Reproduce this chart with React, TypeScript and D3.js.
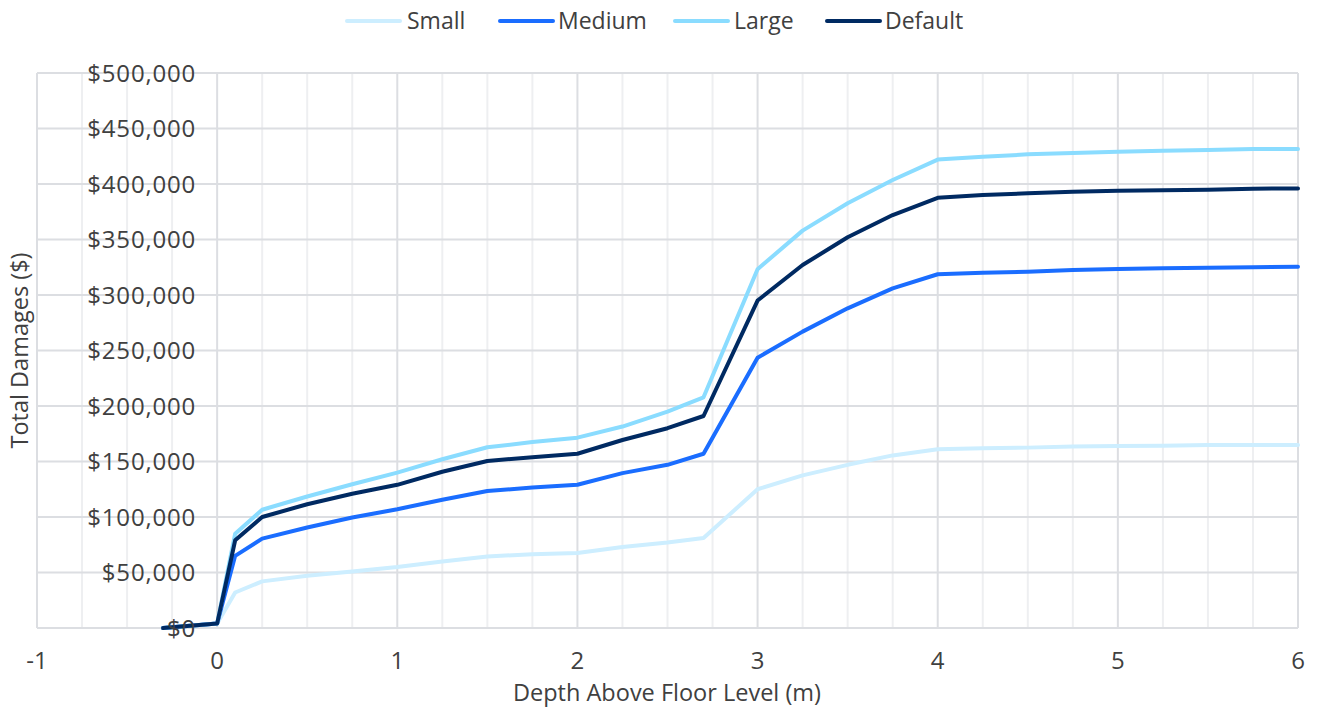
import React from "react";
import * as d3 from "d3";

// Depth above floor level (m) at which damages were sampled
const depths = [-0.3, 0, 0.1, 0.25, 0.5, 0.75, 1, 1.25, 1.5, 1.75, 2, 2.25, 2.5, 2.7, 3, 3.25, 3.5, 3.75, 4, 4.25, 4.5, 4.75, 5, 5.25, 5.5, 5.75, 6];

// Total damages ($) for each building size
const smallDamages = [0, 4000, 32000, 42000, 47000, 51000, 55000, 60000, 64500, 66500, 67500, 73000, 77000, 81000, 125000, 137500, 147000, 155500, 161000, 162000, 162500, 163500, 164000, 164200, 164800, 164900, 164900];
const mediumDamages = [0, 4000, 65000, 80500, 90500, 99500, 107000, 115500, 123500, 126500, 129000, 139500, 147000, 157000, 243500, 267000, 288000, 306000, 318700, 320000, 321000, 322500, 323400, 324000, 324600, 325000, 325500];
const largeDamages = [0, 4000, 85000, 106500, 118500, 129500, 140000, 152000, 162800, 167500, 171500, 181500, 195000, 207800, 323200, 358000, 382600, 403600, 422000, 424500, 426700, 428000, 429000, 430000, 430600, 431500, 431500];
const defaultDamages = [0, 4000, 79000, 100000, 111500, 121000, 129000, 140800, 150500, 153800, 157000, 169400, 180000, 191000, 295000, 327000, 352000, 372000, 387600, 390000, 391600, 393000, 394000, 394400, 394800, 395800, 396000];

const seriesNames = ["Small", "Medium", "Large", "Default"];
const seriesValues = [smallDamages, mediumDamages, largeDamages, defaultDamages];
const seriesColors = ["#cdeeff", "#1a6dff", "#8adcff", "#002a62"];

const xTicks = [-1, 0, 1, 2, 3, 4, 5, 6];
const yTicks = [0, 50000, 100000, 150000, 200000, 250000, 300000, 350000, 400000, 450000, 500000];

const FONT = "'Open Sans', 'Noto Sans', sans-serif";
const TEXT = "#404040";

export default function App() {
  const width = 1318;
  const height = 709;
  const x = d3.scaleLinear().domain([-1, 6]).range([37, 1298]);
  const y = d3.scaleLinear().domain([0, 500000]).range([628, 73]);

  const minorX = d3.range(-1, 6.001, 0.25).filter((v) => Math.abs(v - Math.round(v)) > 1e-6);
  const fmt = (v: number) => "$" + d3.format(",")(v);

  const line = d3
    .line<[number, number]>()
    .x((d) => x(d[0]))
    .y((d) => y(d[1]));

  // legend swatch start and label start for each series
  const legendItems = [
    { lx: 347, tx: 407 },
    { lx: 500, tx: 558 },
    { lx: 675, tx: 734 },
    { lx: 827, tx: 885 },
  ];

  return (
    <svg
      width={width}
      height={height}
      style={{ position: "absolute", left: 0, top: 0, background: "#fff" }}
      fontFamily={FONT}
    >
      {/* minor vertical gridlines */}
      {minorX.map((v) => (
        <line key={"mx" + v} x1={x(v)} x2={x(v)} y1={y(500000)} y2={y(0)} stroke="#eeeff1" strokeWidth={2} />
      ))}
      {/* major vertical gridlines */}
      {xTicks.map((v) => (
        <line key={"x" + v} x1={x(v)} x2={x(v)} y1={y(500000)} y2={y(0)} stroke="#dcdee2" strokeWidth={2} />
      ))}
      {/* horizontal gridlines */}
      {yTicks.map((v) => (
        <line key={"y" + v} x1={x(-1)} x2={x(6)} y1={y(v)} y2={y(v)} stroke="#dcdee2" strokeWidth={2} />
      ))}

      {/* series */}
      {seriesValues.map((vals, i) => (
        <path
          key={seriesNames[i]}
          d={line(depths.map((dx, j) => [dx, vals[j]] as [number, number])) || ""}
          fill="none"
          stroke={seriesColors[i]}
          strokeWidth={4}
          strokeLinejoin="round"
          strokeLinecap="round"
        />
      ))}

      {/* y tick labels */}
      {yTicks.map((v) => (
        <text key={"yl" + v} x={196} y={y(v)} dy="0.36em" textAnchor="end" fontSize={24} letterSpacing={0.8} fill={TEXT}>
          {fmt(v)}
        </text>
      ))}

      {/* x tick labels */}
      {xTicks.map((v) => (
        <text key={"xl" + v} x={x(v)} y={660} dy="0.36em" textAnchor="middle" fontSize={24} fill={TEXT}>
          {v}
        </text>
      ))}

      {/* axis titles */}
      <text x={667} y={693} dy="0.36em" textAnchor="middle" fontSize={23.5} fill={TEXT}>
        Depth Above Floor Level (m)
      </text>
      <text
        transform={`translate(20,${(73 + 628) / 2}) rotate(-90)`}
        dy="0.36em"
        textAnchor="middle"
        fontSize={23.5}
        fill={TEXT}
      >
        Total Damages ($)
      </text>

      {/* legend */}
      {seriesNames.map((name, i) => (
        <g key={"lg" + name}>
          <line
            x1={legendItems[i].lx}
            x2={legendItems[i].lx + 53}
            y1={21}
            y2={21}
            stroke={seriesColors[i]}
            strokeWidth={4}
            strokeLinecap="round"
          />
          <text x={legendItems[i].tx} y={21} dy="0.36em" fontSize={23} fill={TEXT}>
            {name}
          </text>
        </g>
      ))}
    </svg>
  );
}
